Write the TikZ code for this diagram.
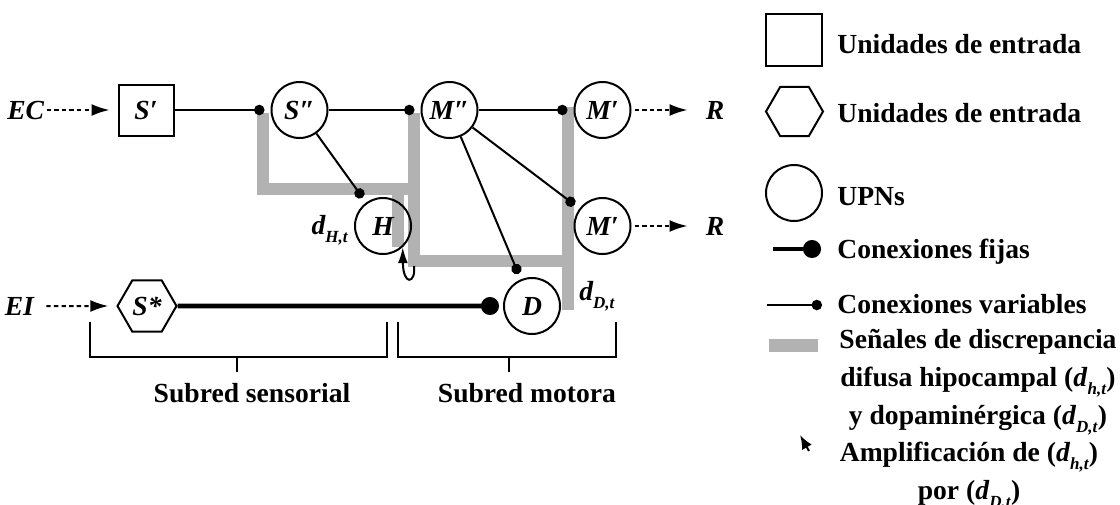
\documentclass[tikz,border=0pt]{standalone}
\usepackage{fontspec}
\setmainfont{Liberation Serif}
\usepackage{tikz}
\usetikzlibrary{shapes.geometric, arrows.meta, positioning, calc}
\definecolor{signalgray}{RGB}{178,178,178}
\newcommand{\dsig}[1]{\textit{d}\raisebox{-4pt}{\fontsize{8.5}{9}\selectfont\textit{#1}}}

\begin{document}
\begin{tikzpicture}[
  x=0.5pt, y=-0.5pt,
  upn/.style={circle, draw, line width=1pt, minimum size=28pt, inner sep=0pt,
              font=\fontsize{13.8}{19}\selectfont\bfseries\itshape},
  inbox/.style={rectangle, draw, line width=1pt, minimum width=27.5pt, minimum height=25.5pt,
                inner sep=0pt, font=\fontsize{13.8}{19}\selectfont\bfseries\itshape},
  hexin/.style={regular polygon, regular polygon sides=6, draw, line width=1pt,
                minimum size=29.5pt, inner sep=0pt, font=\fontsize{13.8}{19}\selectfont\bfseries\itshape},
  lbl/.style={inner sep=0pt, font=\fontsize{13.8}{19}\selectfont\bfseries\itshape},
  legtext/.style={inner sep=0pt, align=center, font=\fontsize{13.8}{19}\selectfont\bfseries},
  varconn/.style={line width=1pt, -{Circle[length=5.2pt]}, shorten >=3pt},
  fixconn/.style={line width=2.3pt, -{Circle[length=9pt]}, shorten >=2pt},
  dotarrow/.style={line width=1pt, dash pattern=on 2.2pt off 1.6pt,
                   -{Latex[length=9pt,width=6pt]}},
  signal/.style={line width=6pt, signalgray, line join=miter},
  bracket/.style={line width=1pt},
]
  \useasboundingbox (0,0) rectangle (1120,504);

  % discrepancy signals
  \draw[signal] (262.5,113) -- (262.5,189) -- (413.5,189);
  \draw[signal] (397.5,186) -- (397.5,247);
  \draw[signal] (413.5,113) -- (413.5,261) -- (567.5,261);
  \draw[signal] (567.5,107) -- (567.5,310);

  % units
  \node[inbox] (sp) at (146,110) {S′};
  \node[upn, right=48pt of sp]   (spp) {S″};
  \node[upn, right=46pt of spp]  (mpp) {M″};
  \node[upn, right=47.5pt of mpp] (mp1) {M′};
  \node[upn, below=29pt of mp1]  (mp2) {M′};
  \node[upn] (H) at (383,226) {H};
  \node[upn] (D) at (532,306) {D};
  \node[hexin] (ss) at (147,306) {S*};

  \node[lbl, left=36.5pt of sp] (ec) {EC};
  \node[lbl, left=41pt of ss]   (ei) {EI};
  \node[lbl, right=37pt of mp1] (r1) {R};
  \node[lbl, right=37pt of mp2] (r2) {R};
  \node[lbl, left=3pt of H, yshift=-2pt] (dh) {\dsig{H,t}};
  \node[lbl, anchor=base west] (dd) at (579,300) {\dsig{D,t}};

  \draw[dotarrow, shorten <=1pt, shorten >=4pt] (ec) -- (sp);
  \draw[dotarrow, shorten <=6pt, shorten >=4pt] (ei) -- (ss);
  \draw[dotarrow, shorten <=1.5pt, shorten >=9pt] (mp1) -- (r1);
  \draw[dotarrow, shorten <=1.5pt, shorten >=9pt] (mp2) -- (r2);

  \draw[varconn] (sp)  -- (spp);
  \draw[varconn] (spp) -- (mpp);
  \draw[varconn] (mpp) -- (mp1);
  \draw[varconn] (spp) -- (H);
  \draw[varconn] (mpp) -- (mp2);
  \draw[varconn] (mpp) -- (D);
  \draw[fixconn] (ss)  -- (D);

  % amplification of d_H by d_D
  \coordinate (ampstart) at (414,266);
  \draw[line width=1pt, -{Latex[length=8pt,width=5pt]}]
    (ampstart) .. controls (416,284) and (403,286) .. (H.-47);

  % subnet brackets
  \draw[bracket] (90,322) |- (387,357) -- (387,322);
  \draw[bracket] (237,357) -- (237,372);
  \draw[bracket] (398,322) |- (616,357) -- (616,322);
  \draw[bracket] (509,357) -- (509,372);
  \node[legtext, anchor=base] (sens) at (252,402) {Subred sensorial};
  \node[legtext, anchor=base] (mot)  at (527,402) {Subred motora};

  % legend
  \node[inbox, minimum width=28pt, minimum height=26pt] (legbox) at (794,40) {};
  \node[hexin, minimum size=28.5pt] (leghex) at (794.5,111.5) {};
  \node[upn] (legupn) at (794,193) {};
  \coordinate (fixA) at (773,249);
  \coordinate (fixB) at (821,249);
  \coordinate (varA) at (767,305);
  \coordinate (varB) at (822,305);
  \draw[fixconn, shorten >=0pt] (fixA) -- (fixB);
  \draw[varconn, shorten >=0pt] (varA) -- (varB);
  \fill[signalgray] (769,339) rectangle (818,352);
  \draw[line width=1pt, -{Latex[length=7pt,width=5.5pt]}] (809,451) -- (800,435);

  \node[legtext, anchor=base west] (t1) at (837,53)  {Unidades de entrada};
  \node[legtext, anchor=base west] (t2) at (837,122) {Unidades de entrada};
  \node[legtext, anchor=base west] (t3) at (837,205) {UPNs};
  \node[legtext, anchor=base west] (t4) at (837,258) {Conexiones fijas};
  \node[legtext, anchor=base west] (t5) at (837,313) {Conexiones variables};
  \node[legtext] (t6) at (978,382)
    {Señales de discrepancia\\difusa hipocampal (\dsig{h,t})\\y dopaminérgica (\dsig{D,t})};
  \node[legtext] (t7) at (969,476) {Amplificación de (\dsig{h,t})\\por (\dsig{D,t})};
\end{tikzpicture}
\end{document}
